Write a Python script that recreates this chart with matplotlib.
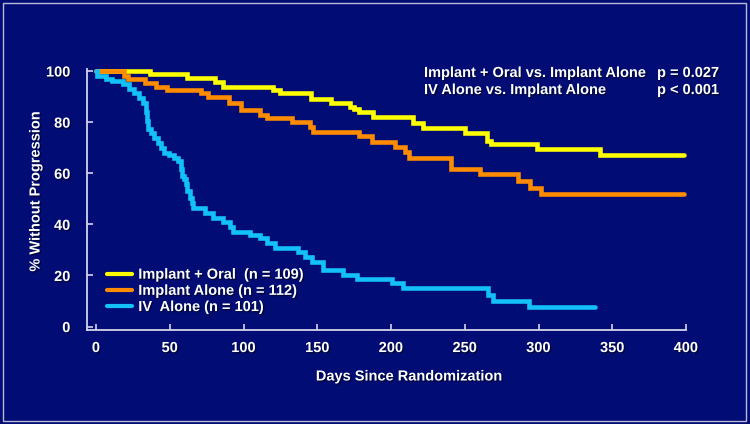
import matplotlib
matplotlib.use("Agg")
import matplotlib.pyplot as plt
import matplotlib.patheffects as pe
from matplotlib.patches import Rectangle

# Kaplan-Meier style step curves
yellow_days = [0, 36.5, 61.5, 80.7, 86.3, 120, 124.7, 146, 159, 172, 175, 178, 188,
               215, 222, 250, 265, 268, 299, 342, 398.5]
yellow_pct = [100, 98.8, 97.1, 95.8, 93.9, 92.6, 91.3, 88.9, 87.6, 86.0, 85.0, 84.1, 82.1,
              79.5, 77.6, 75.9, 72.7, 71.3, 69.5, 67.1, 67.1]

orange_days = [0, 19, 22, 33, 41, 48, 71, 76, 90, 98, 111, 116, 133, 145, 147, 178, 187,
               203, 209.5, 212, 240.5, 260, 286, 294, 301.5, 398.5]
orange_pct = [100, 98, 96.7, 95.4, 93.9, 92.6, 91.3, 89.9, 87.4, 84.6, 82.8, 81.5, 79.9,
              78.2, 76.2, 74.6, 72.3, 70.4, 68.4, 66.1, 61.5, 59.6, 56.9, 54.3, 51.7, 51.7]

blue_days = [0, 1, 7, 11, 18, 22.6, 26, 29.4, 31.6, 34, 34.6, 35.2, 37, 39, 42, 44, 46.3,
             49.7, 53, 55.4, 57.6, 58.4, 59.4, 61, 62, 63.5, 65, 66, 74, 79.5, 86, 90.8,
             93, 104.4, 111, 115.7, 121.4, 137, 141.7, 146.2, 154, 167.6, 176.7, 200.5,
             208.3, 266, 269.4, 293.5, 338.5]
blue_pct = [100, 98, 97, 96.1, 94.8, 93.1, 91.5, 89.5, 87.6, 84, 80.5, 77.2, 75.8, 73.9,
            71.9, 70, 68, 67, 66.1, 64.8, 61.5, 59, 57.6, 55.7, 53, 50.4, 48.5, 46.3, 44.3,
            42.4, 41.1, 39, 37.1, 35.8, 34.5, 32.6, 30.6, 29.3, 27.3, 25.4, 22.1, 20.2,
            18.5, 16.9, 15, 12.3, 10.2, 7.7, 7.7]

labels = ["Implant + Oral  (n = 109)", "Implant Alone (n = 112)", "IV  Alone (n = 101)"]
colors = ["#ffff00", "#ff8c00", "#14c0f8"]

x_ticks = [0, 50, 100, 150, 200, 250, 300, 350, 400]
y_ticks = [0, 20, 40, 60, 80, 100]

comparisons = ["Implant + Oral vs. Implant Alone", "IV Alone vs. Implant Alone"]
p_values = ["p = 0.027", "p < 0.001"]

bg = "#010d74"
axis_col = "#d4d4ea"
plt.rcParams["font.family"] = ["Liberation Sans", "DejaVu Sans"]
plt.rcParams["font.weight"] = "bold"
shadow = [pe.withSimplePatchShadow(offset=(1, -1), shadow_rgbFace="black", alpha=0.5)]

fig = plt.figure(figsize=(7.5, 4.24), dpi=100, facecolor=bg)
fig.patches.append(Rectangle((0.004, 0.007), 0.991, 0.986, transform=fig.transFigure,
                             fill=False, edgecolor="#b8b8d8", linewidth=1))
ax = fig.add_axes([0.1162, 0.2219, 0.7985, 0.6142])
ax.set_facecolor(bg)

series = [(yellow_days, yellow_pct), (orange_days, orange_pct), (blue_days, blue_pct)]
for (d, p), lab, c in zip(series, labels, colors):
    ax.step(d, p, where="post", color=c, lw=3.3, label=lab, clip_on=False,
            solid_capstyle="round", solid_joinstyle="miter")

ax.set_xlim(-6, 400)
ax.set_ylim(-1.3, 100.6)
ax.set_xticks(x_ticks)
ax.set_yticks(y_ticks)
for s in ["top", "right"]:
    ax.spines[s].set_visible(False)
for s in ["left", "bottom"]:
    ax.spines[s].set_color(axis_col)
    ax.spines[s].set_linewidth(1.3)
ax.tick_params(axis="both", direction="in", length=4, width=1.2, color=axis_col,
               labelcolor="white", labelsize=10.5)
ax.tick_params(axis="y", pad=12)
ax.tick_params(axis="x", pad=8)
for t in ax.get_xticklabels() + ax.get_yticklabels():
    t.set_fontweight("bold")
    t.set_path_effects(shadow)

ax.set_xlabel("Days Since Randomization", color="white", fontsize=10.5,
              fontweight="bold", path_effects=shadow)
ax.xaxis.set_label_coords(0.538, -0.152)
ax.set_ylabel("% Without Progression", color="white", fontsize=10.5,
              fontweight="bold", path_effects=shadow)
ax.yaxis.set_label_coords(-0.0745, 0.533)

for i, (txt, pv) in enumerate(zip(comparisons, p_values)):
    yy = 0.9866 - i * 0.0655
    ax.text(0.5625, yy, txt, transform=ax.transAxes, color="white", fontsize=10.5,
            fontweight="bold", va="center", ha="left", path_effects=shadow)
    ax.text(0.9516, yy, pv, transform=ax.transAxes, color="white", fontsize=10.5,
            fontweight="bold", va="center", ha="left", path_effects=shadow)

leg = ax.legend(loc="center left", bbox_to_anchor=(0.033, 0.15), frameon=False,
                borderaxespad=0, borderpad=0, handlelength=1.7, handletextpad=0.45,
                labelspacing=0.15, fontsize=10.5)
for t in leg.get_texts():
    t.set_color("white")
    t.set_fontweight("bold")
    t.set_path_effects(shadow)
for h in leg.legend_handles:
    h.set_linewidth(3)

fig.savefig("out.png", dpi=100, facecolor=bg)
